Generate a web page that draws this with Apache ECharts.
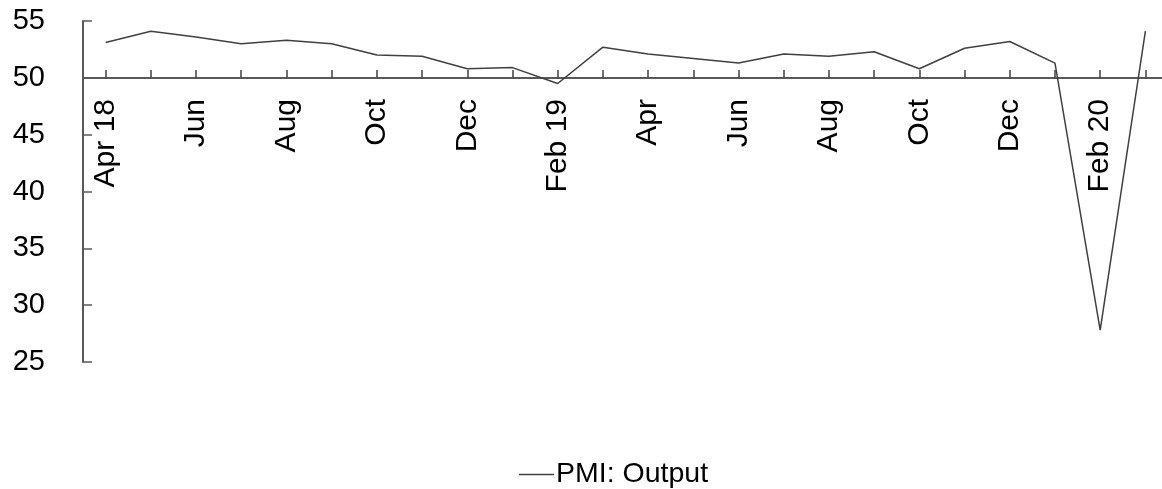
<!DOCTYPE html>
<html>
<head>
<meta charset="utf-8">
<script src="https://cdn.jsdelivr.net/npm/echarts@6/dist/echarts.min.js"></script>
<style>
html,body{margin:0;padding:0;background:#fff;overflow:hidden;width:1162px;height:489px;}
#chart{width:1175px;height:489px;}
</style>
</head>
<body>
<div id="chart"></div>
<script>
var categories = ['Apr 18','May 18','Jun 18','Jul 18','Aug 18','Sep 18','Oct 18','Nov 18','Dec 18','Jan 19','Feb 19','Mar 19','Apr 19','May 19','Jun 19','Jul 19','Aug 19','Sep 19','Oct 19','Nov 19','Dec 19','Jan 20','Feb 20','Mar 20'];
var tickLabels = ['Apr 18','','Jun','','Aug','','Oct','','Dec','','Feb 19','','Apr','','Jun','','Aug','','Oct','','Dec','','Feb 20',''];
var pmiOutput = [53.1,54.1,53.6,53.0,53.3,53.0,52.0,51.9,50.8,50.9,49.5,52.7,52.1,51.7,51.3,52.1,51.9,52.3,50.8,52.6,53.2,51.3,27.8,54.1];
var yTicks = [25,30,35,40,45,50,55];

var FONT = '"Liberation Sans", Arial, sans-serif';
var chart = echarts.init(document.getElementById('chart'));
chart.setOption({
  animation: false,
  backgroundColor: '#ffffff',
  grid: {left: 83, top: 21, width: 1085, height: 341},
  legend: {
    data: [{name: 'PMI: Output', icon: 'rect'}],
    left: 514, top: 455,
    itemWidth: 35, itemHeight: 1.5,
    itemStyle: {color: '#404040'},
    textStyle: {fontFamily: FONT, fontSize: 28.5, color: '#000', padding: [0, 0, 0, -3]}
  },
  xAxis: {
    type: 'category',
    data: categories,
    boundaryGap: true,
    position: 'bottom',
    offset: -284,
    axisLine: {show: true, onZero: false, lineStyle: {color: '#595959', width: 2}},
    axisTick: {show: true, inside: true, length: 8, alignWithLabel: true, interval: 0, lineStyle: {color: '#404040', width: 1.5}},
    axisLabel: {
      interval: 0, rotate: 90, margin: 21,
      fontFamily: FONT, fontSize: 30, color: '#000',
      formatter: function (v, i) { return tickLabels[i]; }
    },
    splitLine: {show: false}
  },
  yAxis: {
    type: 'value',
    min: yTicks[0], max: yTicks[yTicks.length - 1], interval: 5,
    axisLine: {show: true, lineStyle: {color: '#595959', width: 2}},
    axisTick: {show: true, inside: true, length: 9, lineStyle: {color: '#595959', width: 1.5}},
    axisLabel: {margin: 38, fontFamily: FONT, fontSize: 29, color: '#000'},
    splitLine: {show: false}
  },
  series: [{
    name: 'PMI: Output',
    type: 'line',
    data: pmiOutput,
    symbol: 'none',
    lineStyle: {color: '#404040', width: 1.5},
    itemStyle: {color: '#404040'}
  }]
});
</script>
</body>
</html>
